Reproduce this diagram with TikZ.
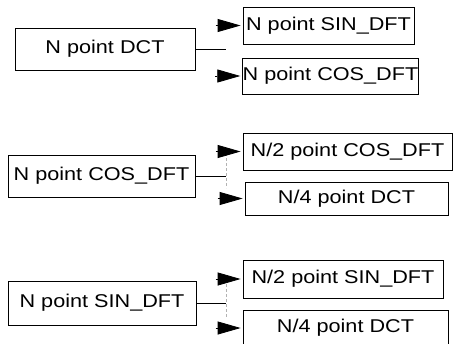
\documentclass[tikz,border=0pt]{standalone}
\usepackage{fontspec}
\setmainfont{Liberation Sans}[FakeStretch=1.17]
\usepackage{tikz}
\usetikzlibrary{positioning,calc,arrows.meta}

\begin{document}
\begin{tikzpicture}[x=1pt,y=-1pt,
    blk/.style={draw,rectangle,line width=0.8pt,inner sep=0pt,font=\fontsize{18.5}{20}\selectfont},
    arr/.style={-{Triangle[length=23pt,width=13pt]},line width=0.8pt},
    tie/.style={line width=0.6pt},
    faint/.style={line width=0.5pt,gray!60,densely dashed}]
    \useasboundingbox (0,0) rectangle (454,343);
    \clip (0,0) rectangle (454,343);

    % N point DCT
    \node[blk,minimum width=180pt,minimum height=42pt] (dct) at (105,49) {N point DCT};
    \node[blk,minimum width=171pt,minimum height=37pt] (sinA) at (328.5,25.5) {N point SIN\_DFT};
    \node[blk,minimum width=175pt,minimum height=36pt] (cosA) at (330.5,76) {N point COS\_DFT};
    \draw[tie] (dct.east) -- ++(31,0);
    \draw[arr] ([xshift=-27pt]sinA.west) -- ([xshift=-2pt]sinA.west);
    \draw[arr] ([xshift=-27pt]cosA.west) -- ([xshift=-2pt]cosA.west);

    % N point COS_DFT
    \node[blk,minimum width=187pt,minimum height=42pt] (cos) at (101.5,176) {N point COS\_DFT};
    \node[blk,minimum width=209pt,minimum height=37pt] (cosB) at (347.5,151.5) {N/2 point COS\_DFT};
    \node[blk,minimum width=203pt,minimum height=33pt] (dctB) at (346.5,198.5) {N/4 point DCT};
    \draw[tie] (cos.east) -- ++(31,0) coordinate (jB);
    \draw[faint] ($(jB)+(0,-28)$) -- ($(jB)+(0,12)$);
    \draw[arr] ([xshift=-27pt]cosB.west) -- ([xshift=-2pt]cosB.west);
    \draw[arr] ([xshift=-27pt]dctB.west) -- ([xshift=-2pt]dctB.west);

    % N point SIN_DFT
    \node[blk,minimum width=188pt,minimum height=44pt] (sin) at (102,303) {N point SIN\_DFT};
    \node[blk,minimum width=200pt,minimum height=38pt] (sinC) at (343,279) {N/2 point SIN\_DFT};
    \node[blk,minimum width=205pt,minimum height=36pt] (dctC) at (345.5,328) {N/4 point DCT};
    \draw[tie] (sin.east) -- ++(30,0) coordinate (jC);
    \draw[faint] ($(jC)+(0,-19)$) -- ($(jC)+(0,14)$);
    \draw[arr] ([xshift=-27pt]sinC.west) -- ([xshift=-2pt]sinC.west);
    \draw[arr] ([xshift=-27pt]dctC.west) -- ([xshift=-2pt]dctC.west);
\end{tikzpicture}
\end{document}
